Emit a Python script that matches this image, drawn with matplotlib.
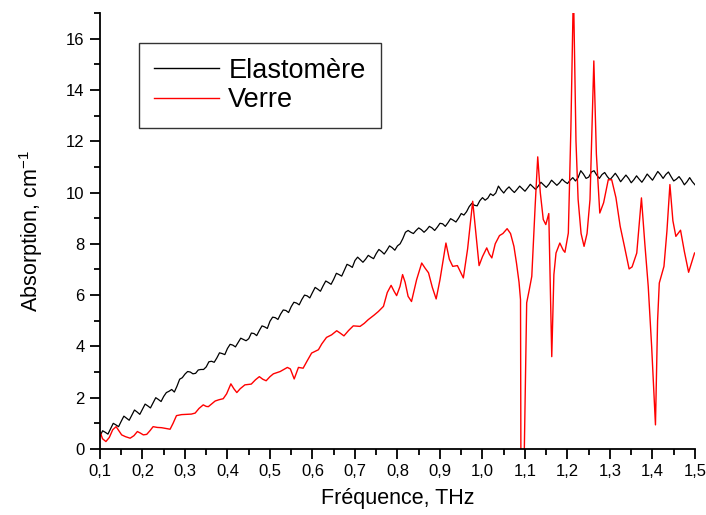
import numpy as np
import matplotlib.pyplot as plt
from matplotlib.ticker import MultipleLocator, FuncFormatter

plt.rcParams['font.family'] = ['Liberation Sans', 'DejaVu Sans']
plt.rcParams['mathtext.fontset'] = 'custom'
plt.rcParams['mathtext.rm'] = 'Liberation Sans'
plt.rcParams['mathtext.it'] = 'Liberation Sans'

## Elastomere : one value every 0.00625 THz from 0.1 to 1.5 THz (cm-1)
elasto_freq = np.arange(225) * 0.00625 + 0.1
elasto_abs = [
    0.50, 0.71, 0.65, 0.58, 0.79, 1.00, 0.94, 0.87,
    1.08, 1.28, 1.20, 1.12, 1.32, 1.52, 1.44, 1.35,
    1.55, 1.75, 1.68, 1.60, 1.80, 2.00, 1.93, 1.85,
    2.05, 2.20, 2.25, 2.32, 2.22, 2.45, 2.72, 2.78,
    2.92, 3.02, 3.00, 2.93, 2.95, 3.08, 3.10, 3.10,
    3.20, 3.40, 3.42, 3.38, 3.55, 3.75, 3.72, 3.68,
    3.92, 4.08, 4.05, 3.98, 4.15, 4.32, 4.27, 4.22,
    4.30, 4.52, 4.50, 4.42, 4.62, 4.80, 4.76, 4.70,
    4.98, 5.14, 5.12, 5.05, 5.26, 5.42, 5.40, 5.32,
    5.55, 5.72, 5.69, 5.62, 5.83, 6.00, 5.97, 5.89,
    6.10, 6.30, 6.23, 6.15, 6.36, 6.55, 6.49, 6.42,
    6.62, 6.85, 6.80, 6.74, 6.97, 7.20, 7.15, 7.08,
    7.35, 7.48, 7.38, 7.28, 7.40, 7.55, 7.48, 7.42,
    7.62, 7.78, 7.70, 7.60, 7.75, 7.92, 7.85, 7.75,
    7.92, 8.00, 8.20, 8.45, 8.52, 8.45, 8.40, 8.52,
    8.62, 8.55, 8.45, 8.55, 8.68, 8.62, 8.52, 8.65,
    8.80, 8.78, 8.68, 8.82, 8.98, 8.92, 8.85, 9.00,
    9.18, 9.12, 9.25, 9.45, 9.58, 9.50, 9.48, 9.68,
    9.80, 9.70, 9.78, 9.95, 9.88, 9.98, 10.25, 10.10,
    9.98, 10.12, 10.22, 10.10, 10.00, 10.12, 10.25, 10.15,
    10.05, 10.18, 10.32, 10.22, 10.12, 10.25, 10.40, 10.30,
    10.20, 10.32, 10.48, 10.38, 10.28, 10.38, 10.52, 10.42,
    10.35, 10.48, 10.58, 10.45, 10.58, 10.85, 10.72, 10.55,
    10.60, 10.80, 10.85, 10.68, 10.55, 10.70, 10.78, 10.62,
    10.50, 10.62, 10.75, 10.60, 10.42, 10.55, 10.68, 10.55,
    10.38, 10.50, 10.65, 10.52, 10.40, 10.55, 10.72, 10.60,
    10.48, 10.65, 10.82, 10.70, 10.55, 10.70, 10.80, 10.62,
    10.45, 10.52, 10.62, 10.48, 10.30, 10.42, 10.58, 10.42,
    10.30,
]

## Verre
verre_freq = [
    0.100, 0.106, 0.114, 0.122, 0.130, 0.138, 0.145, 0.151, 0.160, 0.171,
    0.180, 0.188, 0.195, 0.202, 0.210, 0.218, 0.225, 0.235, 0.245, 0.255,
    0.265, 0.272, 0.280, 0.292, 0.304, 0.315, 0.324, 0.333, 0.343, 0.350,
    0.355, 0.363, 0.371, 0.380, 0.390, 0.398, 0.408, 0.415, 0.422, 0.430,
    0.441, 0.456, 0.466, 0.475, 0.483, 0.491, 0.500, 0.508, 0.524, 0.541,
    0.548, 0.553, 0.557, 0.562, 0.567, 0.578, 0.588, 0.598, 0.614, 0.622,
    0.633, 0.645, 0.657, 0.665, 0.674, 0.685, 0.696, 0.712, 0.722, 0.731,
    0.745, 0.755, 0.767, 0.776, 0.785, 0.792, 0.798, 0.806, 0.812, 0.818,
    0.825, 0.833, 0.845, 0.857, 0.865, 0.873, 0.882, 0.891, 0.900, 0.914,
    0.922, 0.930, 0.941, 0.955, 0.965, 0.977, 0.985, 0.992, 1.000, 1.010,
    1.016, 1.022, 1.030, 1.040, 1.048, 1.058, 1.066, 1.074, 1.080, 1.086,
    1.0895, 1.0905, 1.0975, 1.104, 1.110, 1.116, 1.124, 1.130, 1.136, 1.143,
    1.149, 1.156, 1.163, 1.168, 1.173, 1.182, 1.190, 1.194, 1.202, 1.208,
    1.214, 1.220, 1.225, 1.232, 1.239, 1.246, 1.253, 1.262, 1.268, 1.276,
    1.285, 1.296, 1.304, 1.314, 1.324, 1.334, 1.345, 1.352, 1.363, 1.374,
    1.382, 1.390, 1.398, 1.407, 1.412, 1.416, 1.427, 1.434, 1.441, 1.448,
    1.455, 1.466, 1.475, 1.485, 1.499,
]
verre_abs = [
    0.68, 0.40, 0.29, 0.45, 0.75, 0.87, 0.70, 0.55, 0.48, 0.42,
    0.52, 0.68, 0.62, 0.55, 0.57, 0.72, 0.87, 0.84, 0.83, 0.80,
    0.77, 1.00, 1.30, 1.34, 1.35, 1.36, 1.40, 1.58, 1.72, 1.66,
    1.65, 1.76, 1.87, 1.92, 1.96, 2.15, 2.54, 2.35, 2.20, 2.35,
    2.50, 2.53, 2.70, 2.82, 2.72, 2.66, 2.82, 2.93, 3.02, 3.18,
    3.12, 2.90, 2.73, 2.95, 3.18, 3.15, 3.45, 3.74, 3.87, 4.10,
    4.35, 4.45, 4.61, 4.52, 4.41, 4.62, 4.80, 4.78, 4.90, 5.04,
    5.22, 5.36, 5.56, 6.10, 6.38, 6.15, 5.98, 6.34, 6.80, 6.50,
    5.95, 5.75, 6.60, 7.25, 7.05, 6.87, 6.30, 5.85, 6.60, 8.03,
    7.40, 7.12, 7.15, 6.67, 7.80, 9.66, 8.30, 7.15, 7.50, 7.84,
    7.60, 7.45, 8.00, 8.32, 8.40, 8.59, 8.40, 7.90, 7.25, 6.50,
    5.82, -1.00, -1.00, 5.70, 6.20, 6.73, 9.50, 11.39, 10.00, 8.95,
    8.75, 9.18, 3.60, 6.80, 7.64, 8.03, 7.75, 7.67, 8.42, 12.50,
    18.00, 12.00, 9.73, 8.40, 7.90, 8.40, 9.73, 15.13, 11.50, 9.20,
    9.60, 10.50, 10.50, 9.80, 8.68, 7.90, 7.02, 7.10, 7.64, 9.79,
    8.00, 6.34, 4.00, 0.94, 5.00, 6.47, 7.12, 8.50, 10.31, 8.90,
    8.29, 8.53, 7.70, 6.89, 7.64,
]

fig = plt.figure(figsize=(7.06, 5.15), dpi=100)
ax = fig.add_axes([0.1416, 0.1282, 0.8428, 0.8466])

ax.plot(elasto_freq, elasto_abs, color='black', lw=0.9, label='Elastomère')
ax.plot(verre_freq, verre_abs, color='red', lw=1.0, label='Verre')

ax.set_xlim(0.1, 1.5)
ax.set_ylim(0, 17)

ax.xaxis.set_major_locator(MultipleLocator(0.1))
ax.xaxis.set_minor_locator(MultipleLocator(0.05))
ax.yaxis.set_major_locator(MultipleLocator(2))
ax.yaxis.set_minor_locator(MultipleLocator(1))
## decimal comma on the frequency axis
ax.xaxis.set_major_formatter(FuncFormatter(lambda v, p: ('%.1f' % v).replace('.', ',')))
ax.yaxis.set_major_formatter(FuncFormatter(lambda v, p: '%d' % round(v)))

for side in ['top', 'right']:
    ax.spines[side].set_visible(False)
for side in ['left', 'bottom']:
    ax.spines[side].set_linewidth(1.3)

ax.tick_params(which='major', direction='out', length=7, width=1.3, labelsize=12, pad=4)
ax.tick_params(which='minor', direction='out', length=4, width=1.3)

ax.set_xlabel('Fréquence, THz', fontsize=15.5, labelpad=6)
ax.set_ylabel(r'Absorption, cm$^{\mathregular{-1}}$', fontsize=15.5, labelpad=15)

leg = ax.legend(loc='upper left', bbox_to_anchor=(139 / 706, 1 - 43 / 515),
                bbox_transform=fig.transFigure, borderaxespad=0, fontsize=19.5,
                fancybox=False, frameon=True, handlelength=2.4, handletextpad=0.35,
                borderpad=0.55, labelspacing=0.12)
leg.get_frame().set_edgecolor('black')
leg.get_frame().set_linewidth(1.0)
for line in leg.get_lines():
    line.set_linewidth(1.0)

fig.savefig('out.png', dpi=100)
